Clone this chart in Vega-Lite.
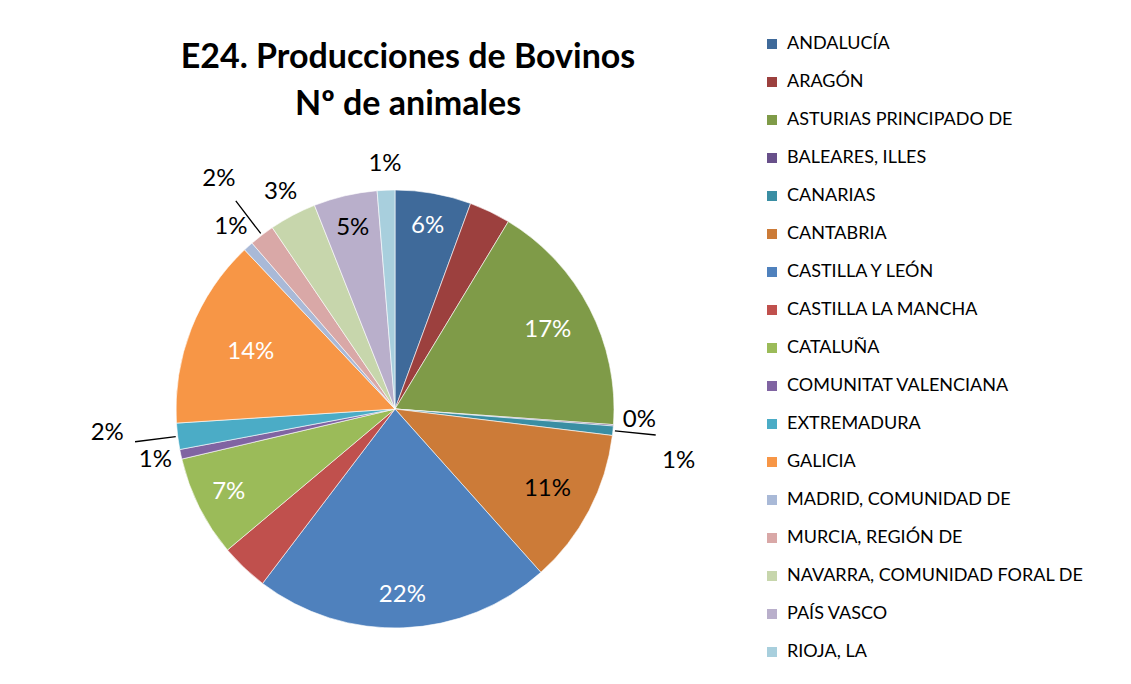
{
  "$schema": "https://vega.github.io/schema/vega-lite/v6.json",
  "width": 460,
  "height": 460,
  "autosize": "none",
  "padding": {"left": 165, "top": 179, "right": 506, "bottom": 45},
  "background": "white",
  "config": {"view": {"stroke": null}, "font": "Lato"},
  "title": {
    "text": ["E24. Producciones de Bovinos", "Nº de animales"],
    "font": "Lato",
    "fontSize": 34,
    "fontWeight": "bold",
    "color": "black",
    "anchor": "middle",
    "dx": 13,
    "lineHeight": 47,
    "baseline": "bottom",
    "offset": -121
  },
  "data": {
    "values": [
      {"region": "ANDALUCÍA", "valor": 5.6},
      {"region": "ARAGÓN", "valor": 3.04},
      {"region": "ASTURIAS PRINCIPADO DE", "valor": 17.45},
      {"region": "BALEARES, ILLES", "valor": 0.1},
      {"region": "CANARIAS", "valor": 0.69},
      {"region": "CANTABRIA", "valor": 11.45},
      {"region": "CASTILLA Y LEÓN", "valor": 21.9},
      {"region": "CASTILLA LA MANCHA", "valor": 3.52},
      {"region": "CATALUÑA", "valor": 7.45},
      {"region": "COMUNITAT VALENCIANA", "valor": 0.71},
      {"region": "EXTREMADURA", "valor": 1.93},
      {"region": "GALICIA", "valor": 13.95},
      {"region": "MADRID, COMUNIDAD DE", "valor": 0.73},
      {"region": "MURCIA, REGIÓN DE", "valor": 1.85},
      {"region": "NAVARRA, COMUNIDAD FORAL DE", "valor": 3.47},
      {"region": "PAÍS VASCO", "valor": 4.68},
      {"region": "RIOJA, LA", "valor": 1.3}
    ]
  },
  "transform": [
    {"window": [{"op": "row_number", "as": "idx"}]},
    {"joinaggregate": [{"op": "sum", "field": "valor", "as": "total"}]},
    {"stack": "valor", "groupby": [], "sort": [{"field": "idx", "order": "ascending"}], "as": ["s0", "s1"]},
    {"calculate": "2*PI*datum.s0/datum.total", "as": "a0"},
    {"calculate": "2*PI*datum.s1/datum.total", "as": "a1"},
    {"calculate": "(datum.a0+datum.a1)/2", "as": "am"},
    {"calculate": "datum.valor/datum.total", "as": "pct"}
  ],
  "layer": [
    {
      "mark": {"type": "arc", "outerRadius": 219, "stroke": "white", "strokeWidth": 0.6},
      "encoding": {
        "theta": {"field": "a0", "type": "quantitative", "scale": null, "stack": null},
        "theta2": {"field": "a1"},
        "color": {
          "field": "region",
          "type": "nominal",
          "scale": {
            "domain": ["ANDALUCÍA", "ARAGÓN", "ASTURIAS PRINCIPADO DE", "BALEARES, ILLES", "CANARIAS", "CANTABRIA", "CASTILLA Y LEÓN", "CASTILLA LA MANCHA", "CATALUÑA", "COMUNITAT VALENCIANA", "EXTREMADURA", "GALICIA", "MADRID, COMUNIDAD DE", "MURCIA, REGIÓN DE", "NAVARRA, COMUNIDAD FORAL DE", "PAÍS VASCO", "RIOJA, LA"],
            "range": ["#3F6A9A", "#9C403E", "#7F9B48", "#68508A", "#3A8EA3", "#CC7B38", "#4F81BD", "#C0504D", "#9BBB59", "#8064A2", "#4BACC6", "#F79646", "#A9B9D7", "#D9A8A7", "#C7D6AC", "#B9AFCB", "#A8CFDD"]
          },
          "legend": {
            "title": null,
            "orient": "none",
            "legendX": 598,
            "legendY": -144,
            "symbolType": "square",
            "symbolSize": 100,
            "symbolStrokeWidth": 0,
            "labelFont": "Lato",
            "labelFontSize": 18,
            "labelColor": "black",
            "rowPadding": 20,
            "labelOffset": 6,
            "labelLimit": 400
          }
        }
      }
    },
    {
      "transform": [{"filter": {"field": "region", "oneOf": ["MURCIA, REGIÓN DE", "EXTREMADURA", "CANARIAS"]}}],
      "mark": {"type": "arc", "innerRadius": 221, "outerRadius": 262, "stroke": "black", "strokeWidth": 1.3, "fillOpacity": 0},
      "encoding": {
        "theta": {"field": "am", "type": "quantitative", "scale": null, "stack": null},
        "theta2": {"field": "am"}
      }
    },
    {
      "transform": [{"filter": {"field": "region", "oneOf": ["ANDALUCÍA", "CASTILLA Y LEÓN", "CATALUÑA", "PAÍS VASCO"]}}],
      "mark": {"type": "text", "radius": 186, "font": "Lato", "fontSize": 24, "align": "center", "baseline": "middle"},
      "encoding": {
        "theta": {"field": "am", "type": "quantitative", "scale": null, "stack": null},
        "text": {"field": "pct", "type": "quantitative", "format": ".0%"},
        "color": {
          "condition": {"test": "datum.region === 'PAÍS VASCO'", "value": "black"},
          "value": "white"
        }
      }
    },
    {
      "transform": [{"filter": {"field": "region", "oneOf": ["ASTURIAS PRINCIPADO DE", "CANTABRIA"]}}],
      "mark": {"type": "text", "radius": 172, "font": "Lato", "fontSize": 24, "align": "center", "baseline": "middle"},
      "encoding": {
        "theta": {"field": "am", "type": "quantitative", "scale": null, "stack": null},
        "text": {"field": "pct", "type": "quantitative", "format": ".0%"},
        "color": {
          "condition": {"test": "datum.region === 'CANTABRIA'", "value": "black"},
          "value": "white"
        }
      }
    },
    {
      "transform": [{"filter": {"field": "region", "equal": "GALICIA"}}],
      "mark": {"type": "text", "radius": 155, "font": "Lato", "fontSize": 24, "align": "center", "baseline": "middle", "color": "white"},
      "encoding": {
        "theta": {"field": "am", "type": "quantitative", "scale": null, "stack": null},
        "text": {"field": "pct", "type": "quantitative", "format": ".0%"}
      }
    },
    {
      "transform": [{"filter": {"field": "region", "oneOf": ["COMUNITAT VALENCIANA", "MADRID, COMUNIDAD DE", "NAVARRA, COMUNIDAD FORAL DE", "RIOJA, LA"]}}],
      "mark": {"type": "text", "radius": 245, "font": "Lato", "fontSize": 24, "align": "center", "baseline": "middle", "color": "black"},
      "encoding": {
        "theta": {"field": "am", "type": "quantitative", "scale": null, "stack": null},
        "text": {"field": "pct", "type": "quantitative", "format": ".0%"}
      }
    },
    {
      "transform": [{"filter": {"field": "region", "equal": "BALEARES, ILLES"}}],
      "mark": {"type": "text", "radius": 245, "dy": -7, "font": "Lato", "fontSize": 24, "align": "center", "baseline": "middle", "color": "black"},
      "encoding": {
        "theta": {"field": "am", "type": "quantitative", "scale": null, "stack": null},
        "text": {"field": "pct", "type": "quantitative", "format": ".0%"}
      }
    },
    {
      "transform": [{"filter": {"field": "region", "equal": "MURCIA, REGIÓN DE"}}],
      "mark": {"type": "text", "radius": 290, "font": "Lato", "fontSize": 24, "align": "center", "baseline": "middle", "color": "black"},
      "encoding": {
        "theta": {"field": "am", "type": "quantitative", "scale": null, "stack": null},
        "text": {"field": "pct", "type": "quantitative", "format": ".0%"}
      }
    },
    {
      "transform": [{"filter": {"field": "region", "equal": "EXTREMADURA"}}],
      "mark": {"type": "text", "radius": 290, "dy": -12, "font": "Lato", "fontSize": 24, "align": "center", "baseline": "middle", "color": "black"},
      "encoding": {
        "theta": {"field": "am", "type": "quantitative", "scale": null, "stack": null},
        "text": {"field": "pct", "type": "quantitative", "format": ".0%"}
      }
    },
    {
      "transform": [{"filter": {"field": "region", "equal": "CANARIAS"}}],
      "mark": {"type": "text", "radius": 285, "dy": 24, "font": "Lato", "fontSize": 24, "align": "center", "baseline": "middle", "color": "black"},
      "encoding": {
        "theta": {"field": "am", "type": "quantitative", "scale": null, "stack": null},
        "text": {"field": "pct", "type": "quantitative", "format": ".0%"}
      }
    }
  ]
}
